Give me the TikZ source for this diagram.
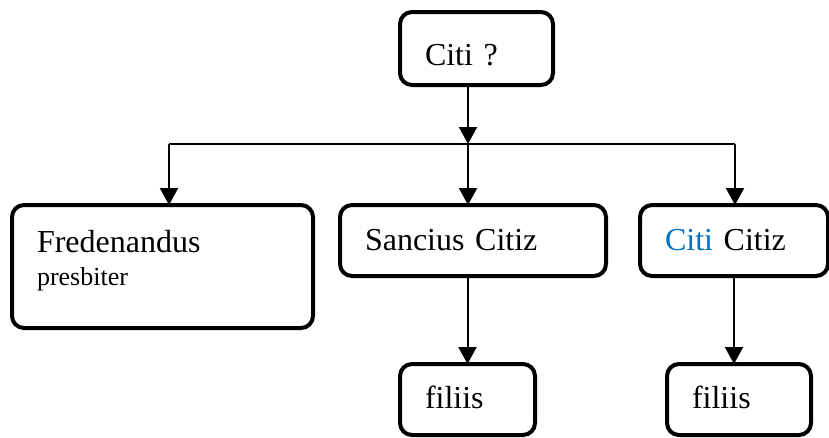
\documentclass[tikz,border=0pt]{standalone}
\usepackage{fontspec}
\setmainfont{Liberation Serif}
\usetikzlibrary{arrows.meta}
\definecolor{wordblue}{RGB}{0,112,192}

\begin{document}
\begin{tikzpicture}[x=1pt, y=-1pt,
    famblock/.style={draw, line width=4pt, rounded corners=12pt,
      inner xsep=25pt, inner ysep=0pt, outer sep=0pt,
      anchor=base west, align=left,
      font=\fontsize{32}{33}\selectfont},
    famarrow/.style={line width=2pt,
      -{Triangle[width=18pt, length=17pt]}},
    bar/.style={line width=2pt}]
  \useasboundingbox (0,0) rectangle (829,437);
  % the boxes, placed by left border and first baseline
  \node[famblock, text width=103pt, text height=53pt, text depth=20pt]
    (citi) at (400,65) {Citi ?};
  \node[famblock, text width=251pt, text height=47pt, text depth=76pt]
    (fred) at (12,252)
    {Fredenandus\\{\fontsize{26}{33}\selectfont presbiter}};
  \node[famblock, text width=216pt, text height=45pt, text depth=26pt]
    (sancius) at (340,250) {Sancius Citiz};
  \node[famblock, text width=138pt, text height=45pt, text depth=26pt]
    (citiz) at (640,250) {{\color{wordblue}Citi} Citiz};
  \node[famblock, text width=85pt, text height=44pt, text depth=27pt]
    (filA) at (400,408) {filiis};
  \node[famblock, text width=94pt, text height=44pt, text depth=27pt]
    (filB) at (667,408) {filiis};
  % the branching bar
  \coordinate (split) at (468,144);
  \coordinate (splitL) at (169,144);
  \coordinate (splitR) at (735,144);
  \draw[bar] (splitL) -- (splitR);
  \draw[famarrow] (citi.south -| split) -- (split);
  \draw[famarrow] (splitL) -- (splitL |- fred.north);
  \draw[famarrow] (split) -- (split |- sancius.north);
  \draw[famarrow] (splitR) -- (splitR |- citiz.north);
  % down to the sons
  \draw[famarrow] (filA.north |- sancius.south) -- (filA.north);
  \draw[famarrow] (citiz.south) -- (citiz.south |- filB.north);
\end{tikzpicture}
\end{document}
